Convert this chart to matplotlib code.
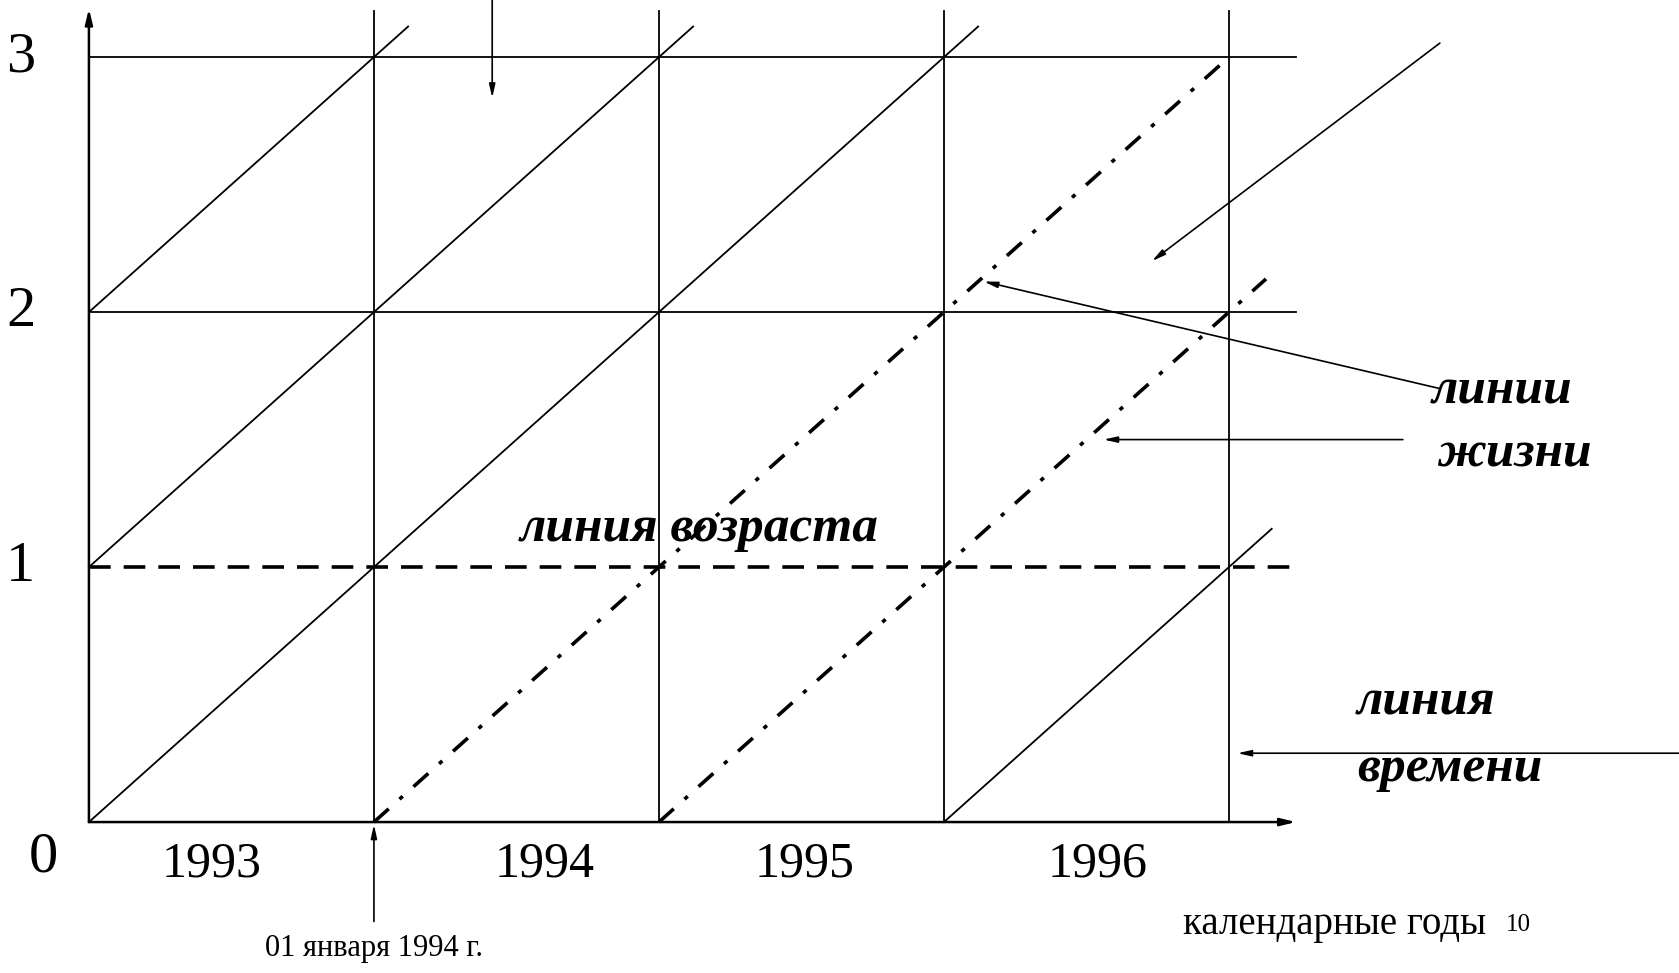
import matplotlib.pyplot as plt

plt.rcParams['font.family'] = ['Liberation Serif', 'DejaVu Serif']

# календарные годы и возраст
years = ['1993', '1994', '1995', '1996']
year_edges = [1, 2, 3, 4]
age_ticks = ['0', '1', '2', '3']
grid_ages = [2, 3]
age_line = 1

# линии жизни: момент рождения (лет от 01.01.1993) и возраст на конце линии
solid_births = [-2, -1, 0, 3]
solid_end_age = [3.12, 3.12, 3.12, 1.15]
dashdot_births = [1, 2]
dashdot_end_age = [3.0, 2.13]

x_right = 4.235   # конец оси времени
y_top = 3.18      # верх вертикальных линий

fig = plt.figure(figsize=(16.79, 9.73), dpi=100)
ax = fig.add_axes([0, 0, 1, 1])
ax.set_xlim(-0.312, 5.579)
ax.set_ylim(-0.592, 3.224)
ax.axis('off')

thin = 1.3
# сетка
for a in grid_ages:
    ax.plot([0, x_right], [a, a], color='black', lw=thin)
for x in year_edges:
    ax.plot([x, x], [0, y_top], color='black', lw=thin)
# линия возраста
ax.plot([0, x_right], [age_line, age_line], color='black', lw=2.6,
        linestyle=(0, (6, 3.6)), solid_capstyle='butt', dash_capstyle='butt')

# линии жизни
def lifeline(b, end_age, **kw):
    x0 = max(0, b)
    ax.plot([x0, b + end_age], [x0 - b, end_age], color='black', **kw)

for b, e in zip(solid_births, solid_end_age):
    lifeline(b, e, lw=thin)
for b, e in zip(dashdot_births, dashdot_end_age):
    lifeline(b, e, lw=2.6, linestyle=(0, (5.5, 4, 1.2, 4)))

# оси со стрелками
axis_arrow = dict(arrowstyle='-|>,head_length=0.9,head_width=0.22', color='black',
                  lw=1.8, shrinkA=0, shrinkB=0)
ax.annotate('', xy=(x_right, 0), xytext=(0, 0), arrowprops=axis_arrow)
ax.annotate('', xy=(0, 3.19), xytext=(0, 0), arrowprops=axis_arrow)

# подписи осей
for i, t in enumerate(age_ticks[1:], start=1):
    ax.text(-0.24, i, t, fontsize=42, ha='center', va='center')
ax.text(-0.16, -0.14, age_ticks[0], fontsize=42, ha='center', va='center')
year_x = [0.43, 1.6, 2.51, 3.54]
for x, t in zip(year_x, years):
    ax.text(x, -0.165, t, fontsize=36, ha='center', va='center')

ax.text(3.84, -0.40, 'календарные годы', fontsize=28, ha='left', va='center')
ax.text(4.97, -0.405, '10', fontsize=18, ha='left', va='center')
ax.text(1.0, -0.495, '01 января 1994 г.', fontsize=22, ha='center', va='center')

# подписи курсивом
lab = dict(fontsize=37, fontweight='bold', fontstyle='italic', ha='left', va='center')
ax.text(1.51, 1.15, 'линия возраста', **lab)
ax.text(4.71, 1.69, 'линии', **lab)
ax.text(4.73, 1.44, 'жизни', **lab)
ax.text(4.45, 0.47, 'линия', **lab)
ax.text(4.45, 0.21, 'времени', **lab)

# указатели
ptr = dict(arrowstyle='-|>,head_length=0.8,head_width=0.18', color='black',
           lw=1.2, shrinkA=0, shrinkB=0)
ax.annotate('', xy=(1.0, -0.01), xytext=(1.0, -0.39), arrowprops=ptr)
ax.annotate('', xy=(1.415, 2.84), xytext=(1.415, 3.3), arrowprops=ptr)
ax.annotate('', xy=(3.73, 2.20), xytext=(4.74, 3.055), arrowprops=ptr)
ax.annotate('', xy=(3.14, 2.12), xytext=(4.74, 1.70), arrowprops=ptr)
ax.annotate('', xy=(3.56, 1.50), xytext=(4.61, 1.50), arrowprops=ptr)
ax.annotate('', xy=(4.03, 0.27), xytext=(5.6, 0.27), arrowprops=ptr)

fig.savefig('out.png', dpi=100)
